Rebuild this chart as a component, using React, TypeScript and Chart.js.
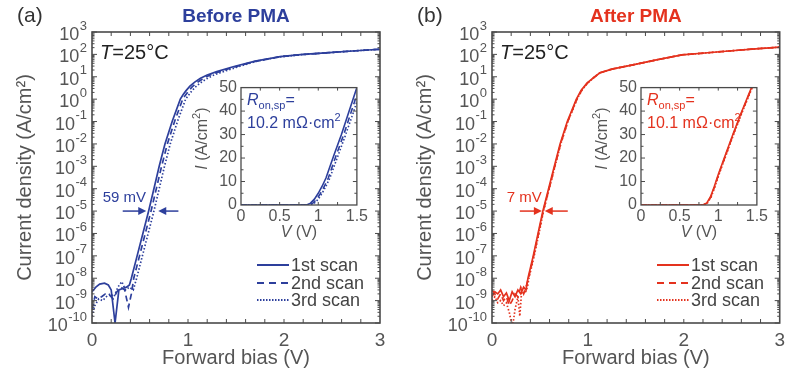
import React, { useEffect, useRef } from 'react';
import { Chart, registerables } from 'chart.js';

Chart.register(...registerables);

const FONT = "'Liberation Sans', Arial, Helvetica, sans-serif";
const BLUE = '#2d3f9c';
const RED = '#e4321e';
const GREY = '#555555';
const FRAME = '#4a4a4a';

// ---------------- text / labels ----------------
const scanLabels = ['1st scan', '2nd scan', '3rd scan'];
const panelLetters = ['(a)', '(b)'];
const panelTitles = ['Before PMA', 'After PMA'];
const shiftLabels = ['59 mV', '7 mV'];
const ronLabels = ['10.2 mΩ·cm', '10.1 mΩ·cm'];
const yExponents = [3, 2, 1, 0, -1, -2, -3, -4, -5, -6, -7, -8, -9, -10];

// ---------------- panel (a) main: forward bias (V) / current density (A/cm2) ----------------
const biasA1 = [0, 0.04, 0.08, 0.13, 0.17, 0.2, 0.24, 0.28, 0.32, 0.36, 0.39, 0.41, 0.47, 0.53, 0.59, 0.645, 0.7, 0.76, 0.835, 0.92, 0.95, 0.98, 1.02, 1.07, 1.13, 1.2, 1.3, 1.47, 1.7, 1.96, 2.2, 2.47, 2.75, 3.0];
const jA1 = [2.5e-9, 4e-9, 5.5e-9, 6e-9, 5e-9, 3e-9, 1e-10, 3e-9, 3.5e-9, 4e-9, 5e-9, 1e-8, 1e-7, 1e-6, 1e-5, 1e-4, 1e-3, 1e-2, 1e-1, 1, 1.6, 2.4, 3.8, 5.8, 8.5, 12, 17, 28, 50, 80, 100, 120, 145, 170];
const biasA2 = [0, 0.03, 0.06, 0.1, 0.14, 0.18, 0.22, 0.26, 0.3, 0.34, 0.38, 0.41, 0.435, 0.495, 0.555, 0.615, 0.67, 0.725, 0.785, 0.86, 0.945, 0.975, 1.005, 1.045, 1.095, 1.155, 1.22, 1.32, 1.48, 1.7, 1.96, 2.2, 2.47, 2.75, 3.0];
const jA2 = [4e-10, 1.5e-9, 1.2e-9, 1.5e-9, 2e-9, 1.8e-9, 1.2e-9, 2.5e-9, 4e-9, 3e-9, 5e-10, 2e-9, 1e-8, 1e-7, 1e-6, 1e-5, 1e-4, 1e-3, 1e-2, 1e-1, 1, 1.55, 2.3, 3.6, 5.5, 8.1, 11.5, 16.5, 27, 49, 79, 99, 120, 145, 170];
const biasA3 = [0, 0.03, 0.07, 0.11, 0.15, 0.19, 0.23, 0.27, 0.31, 0.35, 0.39, 0.43, 0.465, 0.525, 0.585, 0.645, 0.7, 0.755, 0.815, 0.89, 0.975, 1.005, 1.035, 1.075, 1.125, 1.185, 1.25, 1.35, 1.5, 1.7, 1.96, 2.2, 2.47, 2.75, 3.0];
const jA3 = [2e-10, 6e-10, 1.2e-9, 1e-9, 1.5e-9, 2e-9, 1.5e-9, 4e-9, 7e-9, 3e-9, 4e-9, 3e-9, 1e-8, 1e-7, 1e-6, 1e-5, 1e-4, 1e-3, 1e-2, 1e-1, 1, 1.5, 2.2, 3.4, 5.2, 7.7, 11, 16, 26, 48, 78, 99, 120, 145, 170];

// ---------------- panel (b) main ----------------
const biasB1 = [0, 0.03, 0.06, 0.09, 0.12, 0.15, 0.18, 0.21, 0.24, 0.27, 0.3, 0.33, 0.355, 0.375, 0.43, 0.48, 0.53, 0.59, 0.65, 0.71, 0.785, 0.88, 0.93, 0.99, 1.05, 1.125, 1.25, 1.47, 1.7, 1.98, 2.25, 2.5, 2.75, 3.0];
const jB1 = [1.5e-9, 2.5e-9, 2e-9, 3e-9, 1.5e-9, 2.2e-9, 1e-9, 2.5e-9, 1.5e-9, 3e-9, 2e-9, 4e-9, 3e-9, 1e-8, 1e-7, 1e-6, 1e-5, 1e-4, 1e-3, 1e-2, 1e-1, 1, 2.5, 5.2, 8.5, 15, 22, 34, 55, 95, 118, 145, 178, 210];
const biasB2 = [0, 0.03, 0.06, 0.09, 0.12, 0.15, 0.18, 0.21, 0.24, 0.27, 0.3, 0.33, 0.36, 0.38, 0.435, 0.485, 0.535, 0.595, 0.655, 0.715, 0.79, 0.885, 0.935, 0.995, 1.05, 1.125, 1.25, 1.47, 1.7, 1.98, 2.25, 2.5, 2.75, 3.0];
const jB2 = [3e-9, 2e-9, 1.2e-9, 2e-9, 1e-9, 1.5e-9, 6e-10, 1e-9, 2e-9, 1.5e-9, 4e-9, 2e-9, 5e-9, 1e-8, 1e-7, 1e-6, 1e-5, 1e-4, 1e-3, 1e-2, 1e-1, 1, 2.5, 5.2, 8.4, 15, 22, 34, 55, 95, 118, 145, 178, 210];
const biasB3 = [0, 0.03, 0.06, 0.09, 0.12, 0.15, 0.18, 0.2, 0.22, 0.24, 0.27, 0.29, 0.31, 0.34, 0.37, 0.385, 0.44, 0.49, 0.537, 0.597, 0.657, 0.717, 0.792, 0.887, 0.937, 0.997, 1.05, 1.125, 1.25, 1.47, 1.7, 1.98, 2.25, 2.5, 2.75, 3.0];
const jB3 = [1e-9, 1.5e-9, 8e-10, 1e-9, 6e-10, 8e-10, 3e-10, 1.2e-10, 1e-10, 4e-10, 1.5e-9, 2e-10, 3e-9, 2e-9, 4e-9, 1e-8, 1e-7, 1e-6, 1e-5, 1e-4, 1e-3, 1e-2, 1e-1, 1, 2.5, 5.2, 8.4, 15, 22, 34, 55, 95, 118, 145, 178, 210];

// ---------------- insets: V (V) / I (A/cm2) ----------------
const vInA1 = [0, 0.5, 0.85, 0.9, 0.95, 1.0, 1.05, 1.1, 1.2, 1.3, 1.4, 1.5];
const iInA1 = [0, 0, 0, 0.8, 2.5, 5, 8, 11.5, 21, 30, 40, 50];
const vInA2 = [0, 0.5, 0.88, 0.93, 0.98, 1.03, 1.08, 1.13, 1.23, 1.33, 1.43, 1.5];
const iInA2 = [0, 0, 0, 0.8, 2.5, 5, 8, 11.5, 21, 30, 40, 47];
const vInA3 = [0, 0.5, 0.9, 0.95, 1.0, 1.05, 1.1, 1.15, 1.25, 1.35, 1.45, 1.5];
const iInA3 = [0, 0, 0, 0.8, 2.5, 5, 8, 11.5, 20.5, 29.5, 39, 44];
const vInB1 = [0, 0.5, 0.8, 0.85, 0.9, 0.95, 1.0, 1.1, 1.2, 1.3, 1.43];
const iInB1 = [0, 0, 0, 0.8, 3.5, 8, 13, 22, 31, 39.5, 50];
const vInB2 = [0, 0.5, 0.805, 0.855, 0.905, 0.955, 1.005, 1.105, 1.205, 1.305, 1.435];
const iInB2 = [0, 0, 0, 0.8, 3.5, 8, 13, 22, 31, 39.5, 50];
const vInB3 = [0, 0.5, 0.81, 0.86, 0.91, 0.96, 1.01, 1.11, 1.21, 1.31, 1.44];
const iInB3 = [0, 0, 0, 0.8, 3.5, 8, 13, 22, 31, 39.5, 50];

// annotation arrow positions (V): [left tail, left tip, right tail, right tip], level in A/cm2
const shiftArrows = [[0.32, 0.565, 0.9, 0.69], [0.29, 0.52, 0.79, 0.55]];
const shiftLevel = 1e-5;

const dashes = [[], [6, 4], [1.5, 2]];
const legendDashes = [[], [7, 5], [1.5, 1.5]];

const zip = (xs: number[], ys: number[]) => xs.map((x, i) => ({ x, y: ys[i] }));

const panels = [
  {
    color: BLUE,
    main: [zip(biasA1, jA1), zip(biasA2, jA2), zip(biasA3, jA3)],
    inset: [zip(vInA1, iInA1), zip(vInA2, iInA2), zip(vInA3, iInA3)],
  },
  {
    color: RED,
    main: [zip(biasB1, jB1), zip(biasB2, jB2), zip(biasB3, jB3)],
    inset: [zip(vInB1, iInB1), zip(vInB2, iInB2), zip(vInB3, iInB3)],
  },
];

type Run = { t: string; f: string; dy?: number };
function runsWidth(ctx: CanvasRenderingContext2D, runs: Run[]) {
  let w = 0;
  for (const r of runs) { ctx.font = r.f; w += ctx.measureText(r.t).width; }
  return w;
}
function drawRuns(ctx: CanvasRenderingContext2D, runs: Run[], x: number, y: number) {
  let cx = x;
  ctx.textAlign = 'left';
  ctx.textBaseline = 'middle';
  for (const r of runs) {
    ctx.font = r.f;
    ctx.fillText(r.t, cx, y + (r.dy || 0));
    cx += ctx.measureText(r.t).width;
  }
}
function arrow(ctx: CanvasRenderingContext2D, x0: number, x1: number, y: number) {
  const dir = Math.sign(x1 - x0);
  ctx.beginPath();
  ctx.moveTo(x0, y);
  ctx.lineTo(x1 - dir * 5, y);
  ctx.stroke();
  ctx.beginPath();
  ctx.moveTo(x1, y);
  ctx.lineTo(x1 - dir * 8, y - 4);
  ctx.lineTo(x1 - dir * 8, y + 4);
  ctx.closePath();
  ctx.fill();
}

function mainDecor(idx: number) {
  const color = panels[idx].color;
  return {
    id: 'mainDecor' + idx,
    afterDraw(chart: any) {
      const { ctx, chartArea: ca, scales } = chart;
      const x = scales.x, y = scales.y;
      ctx.save();
      // frame
      ctx.setLineDash([]);
      ctx.strokeStyle = FRAME;
      ctx.lineWidth = 1.6;
      ctx.strokeRect(ca.left, ca.top, ca.right - ca.left, ca.bottom - ca.top);
      ctx.lineWidth = 1;
      ctx.beginPath();
      for (let v = 0.2; v < 2.99; v += 0.2) {
        const px = x.getPixelForValue(v);
        ctx.moveTo(px, ca.bottom); ctx.lineTo(px, ca.bottom - 4);
        ctx.moveTo(px, ca.top); ctx.lineTo(px, ca.top + 4);
      }
      for (const e of yExponents) {
        for (let m = 1; m <= 9; m++) {
          if (e === 3 && m > 1) continue;
          const py = y.getPixelForValue(m * Math.pow(10, e));
          const len = m === 1 ? 5 : 2.5;
          ctx.moveTo(ca.left, py); ctx.lineTo(ca.left + len, py);
          ctx.moveTo(ca.right, py); ctx.lineTo(ca.right - len, py);
        }
      }
      ctx.stroke();

      // y tick labels 10^k
      ctx.fillStyle = GREY;
      ctx.textBaseline = 'middle';
      for (const e of yExponents) {
        const py = y.getPixelForValue(Math.pow(10, e));
        const exp = String(e);
        ctx.font = `13px ${FONT}`;
        const we = ctx.measureText(exp).width;
        const right = ca.left - 5;
        ctx.textAlign = 'left';
        ctx.fillText(exp, right - we, py - 6);
        ctx.font = `18px ${FONT}`;
        ctx.textAlign = 'right';
        ctx.fillText('10', right - we - 0.5, py + 3);
      }

      // panel letter and title
      ctx.fillStyle = '#333';
      ctx.font = `21px ${FONT}`;
      ctx.textAlign = 'left';
      ctx.fillText(panelLetters[idx], 17, 16);
      ctx.fillStyle = color;
      ctx.font = `bold 19px ${FONT}`;
      ctx.textAlign = 'center';
      ctx.fillText(panelTitles[idx], (ca.left + ca.right) / 2, 17);

      // T=25°C
      ctx.fillStyle = '#222';
      drawRuns(ctx, [
        { t: 'T', f: `italic 20px ${FONT}` },
        { t: '=25°C', f: `20px ${FONT}` },
      ], ca.left + 8, ca.top + 21);

      // shift arrows
      const a = shiftArrows[idx];
      const ay = y.getPixelForValue(shiftLevel);
      ctx.strokeStyle = color;
      ctx.fillStyle = color;
      ctx.lineWidth = 1.5;
      arrow(ctx, x.getPixelForValue(a[0]), x.getPixelForValue(a[1]), ay);
      arrow(ctx, x.getPixelForValue(a[2]), x.getPixelForValue(a[3]), ay);
      ctx.font = `15px ${FONT}`;
      ctx.textAlign = 'left';
      ctx.textBaseline = 'middle';
      ctx.fillText(shiftLabels[idx], x.getPixelForValue(a[0]) - 20 + (idx === 1 ? 7 : 0), ay - 13);

      // legend
      const rows = [233, 251, 268];
      for (let i = 0; i < 3; i++) {
        const ly = ca.top + rows[i];
        ctx.strokeStyle = color;
        ctx.lineWidth = 2;
        ctx.setLineDash(legendDashes[i]);
        ctx.beginPath();
        ctx.moveTo(ca.left + 165, ly);
        ctx.lineTo(ca.left + 197, ly);
        ctx.stroke();
        ctx.setLineDash([]);
        ctx.fillStyle = '#444';
        ctx.font = `18px ${FONT}`;
        ctx.textAlign = 'left';
        ctx.fillText(chart.data.datasets[i].label, ca.left + 199, ly + 1);
      }
      ctx.restore();
    },
  };
}

function insetDecor(idx: number) {
  const color = panels[idx].color;
  return {
    id: 'insetDecor' + idx,
    afterDraw(chart: any) {
      const { ctx, chartArea: ca, scales } = chart;
      const x = scales.x, y = scales.y;
      ctx.save();
      ctx.setLineDash([]);
      ctx.strokeStyle = FRAME;
      ctx.lineWidth = 1.3;
      ctx.strokeRect(ca.left, ca.top, ca.right - ca.left, ca.bottom - ca.top);
      ctx.lineWidth = 1;
      ctx.beginPath();
      for (let v = 0.25; v < 1.49; v += 0.25) {
        const px = x.getPixelForValue(v);
        ctx.moveTo(px, ca.bottom); ctx.lineTo(px, ca.bottom - 3);
        ctx.moveTo(px, ca.top); ctx.lineTo(px, ca.top + 3);
      }
      for (let v = 5; v < 50; v += 5) {
        const py = y.getPixelForValue(v);
        const len = v % 10 === 0 ? 4 : 2.5;
        ctx.moveTo(ca.left, py); ctx.lineTo(ca.left + len, py);
        ctx.moveTo(ca.right, py); ctx.lineTo(ca.right - len, py);
      }
      ctx.stroke();

      // axis titles
      ctx.fillStyle = GREY;
      const vRuns: Run[] = [
        { t: 'V', f: `italic 16px ${FONT}` },
        { t: ' (V)', f: `16px ${FONT}` },
      ];
      const vw = runsWidth(ctx, vRuns);
      drawRuns(ctx, vRuns, (ca.left + ca.right) / 2 - vw / 2, ca.bottom + 28);

      const iRuns: Run[] = [
        { t: 'I', f: `italic 16px ${FONT}` },
        { t: ' (A/cm', f: `16px ${FONT}` },
        { t: '2', f: `11px ${FONT}`, dy: -6 },
        { t: ')', f: `16px ${FONT}` },
      ];
      const iw = runsWidth(ctx, iRuns);
      ctx.save();
      ctx.translate(13, ca.top + 51);
      ctx.rotate(-Math.PI / 2);
      drawRuns(ctx, iRuns, -iw / 2, 0);
      ctx.restore();

      // R_on,sp annotation
      ctx.fillStyle = color;
      drawRuns(ctx, [
        { t: 'R', f: `italic 16px ${FONT}` },
        { t: 'on,sp', f: `11px ${FONT}`, dy: 5 },
        { t: '=', f: `16px ${FONT}` },
      ], ca.left + 6, ca.top + 13);
      drawRuns(ctx, [
        { t: ronLabels[idx], f: `16px ${FONT}` },
        { t: '2', f: `11px ${FONT}`, dy: -6 },
      ], ca.left + 6, ca.top + 36);
      ctx.restore();
    },
  };
}

function mainConfig(idx: number, padRight: number): any {
  const p = panels[idx];
  return {
    type: 'line',
    data: {
      datasets: p.main.map((d, i) => ({
        label: scanLabels[i],
        data: d,
        borderColor: p.color,
        borderWidth: 1.7,
        borderDash: dashes[i],
        pointRadius: 0,
        tension: 0,
        fill: false,
      })),
    },
    options: {
      animation: false,
      responsive: false,
      maintainAspectRatio: false,
      devicePixelRatio: 1,
      layout: { padding: { left: 0, right: padRight, top: 32, bottom: 0 } },
      plugins: { legend: { display: false }, tooltip: { enabled: false }, title: { display: false } },
      scales: {
        x: {
          type: 'linear', min: 0, max: 3,
          afterFit: (s: any) => { s.height = 53; },
          grid: { display: false, drawTicks: false },
          border: { display: false },
          ticks: { stepSize: 1, padding: 6, color: GREY, font: { size: 19, family: FONT }, maxRotation: 0 },
          title: { display: true, text: 'Forward bias (V)', color: GREY, font: { size: 20, family: FONT }, padding: { top: 0, bottom: 6 } },
        },
        y: {
          type: 'logarithmic', min: 1e-10, max: 1e3,
          afterFit: (s: any) => { s.width = 92; },
          grid: { display: false, drawTicks: false },
          border: { display: false },
          ticks: { display: false },
          title: { display: true, text: 'Current density (A/cm²)', color: GREY, font: { size: 20, family: FONT }, padding: { top: 13, bottom: 0 } },
        },
      },
    },
    plugins: [mainDecor(idx)],
  };
}

function insetConfig(idx: number): any {
  const p = panels[idx];
  return {
    type: 'line',
    data: {
      datasets: p.inset.map((d, i) => ({
        label: scanLabels[i],
        data: d,
        borderColor: p.color,
        borderWidth: 1.6,
        borderDash: dashes[i],
        pointRadius: 0,
        tension: 0,
        fill: false,
      })),
    },
    options: {
      animation: false,
      responsive: false,
      maintainAspectRatio: false,
      devicePixelRatio: 1,
      layout: { padding: { left: 0, right: 10, top: 10, bottom: 0 } },
      plugins: { legend: { display: false }, tooltip: { enabled: false } },
      scales: {
        x: {
          type: 'linear', min: 0, max: 1.5,
          afterFit: (s: any) => { s.height = 39; },
          grid: { display: false, drawTicks: false },
          border: { display: false },
          ticks: { stepSize: 0.5, padding: 2, color: GREY, font: { size: 16, family: FONT }, maxRotation: 0, callback: (v: any) => String(v) },
        },
        y: {
          type: 'linear', min: 0, max: 50,
          afterFit: (s: any) => { s.width = 51; },
          grid: { display: false, drawTicks: false },
          border: { display: false },
          ticks: { stepSize: 10, padding: 4, color: GREY, font: { size: 16, family: FONT } },
        },
      },
    },
    plugins: [insetDecor(idx)],
  };
}

export default function App() {
  const mainA = useRef<HTMLCanvasElement>(null);
  const insetA = useRef<HTMLCanvasElement>(null);
  const mainB = useRef<HTMLCanvasElement>(null);
  const insetB = useRef<HTMLCanvasElement>(null);

  useEffect(() => {
    Chart.defaults.font.family = FONT;
    const charts = [
      new Chart(mainA.current!, mainConfig(0, 20)),
      new Chart(mainB.current!, mainConfig(1, 10)),
      new Chart(insetA.current!, insetConfig(0)),
      new Chart(insetB.current!, insetConfig(1)),
    ];
    return () => charts.forEach((c) => c.destroy());
  }, []);

  const abs = (left: number, top: number, w: number, h: number): React.CSSProperties => ({
    position: 'absolute', left, top, width: w, height: h, display: 'block',
  });

  return (
    <div style={{ position: 'absolute', left: 0, top: 0, width: 791, height: 376, background: '#fff', overflow: 'hidden' }}>
      <canvas ref={mainA} width={400} height={376} style={abs(0, 0, 400, 376)} />
      <canvas ref={mainB} width={391} height={376} style={abs(400, 0, 391, 376)} />
      <canvas ref={insetA} width={180} height={170} style={abs(190, 74, 180, 170)} />
      <canvas ref={insetB} width={180} height={170} style={abs(590, 74, 180, 170)} />
    </div>
  );
}
